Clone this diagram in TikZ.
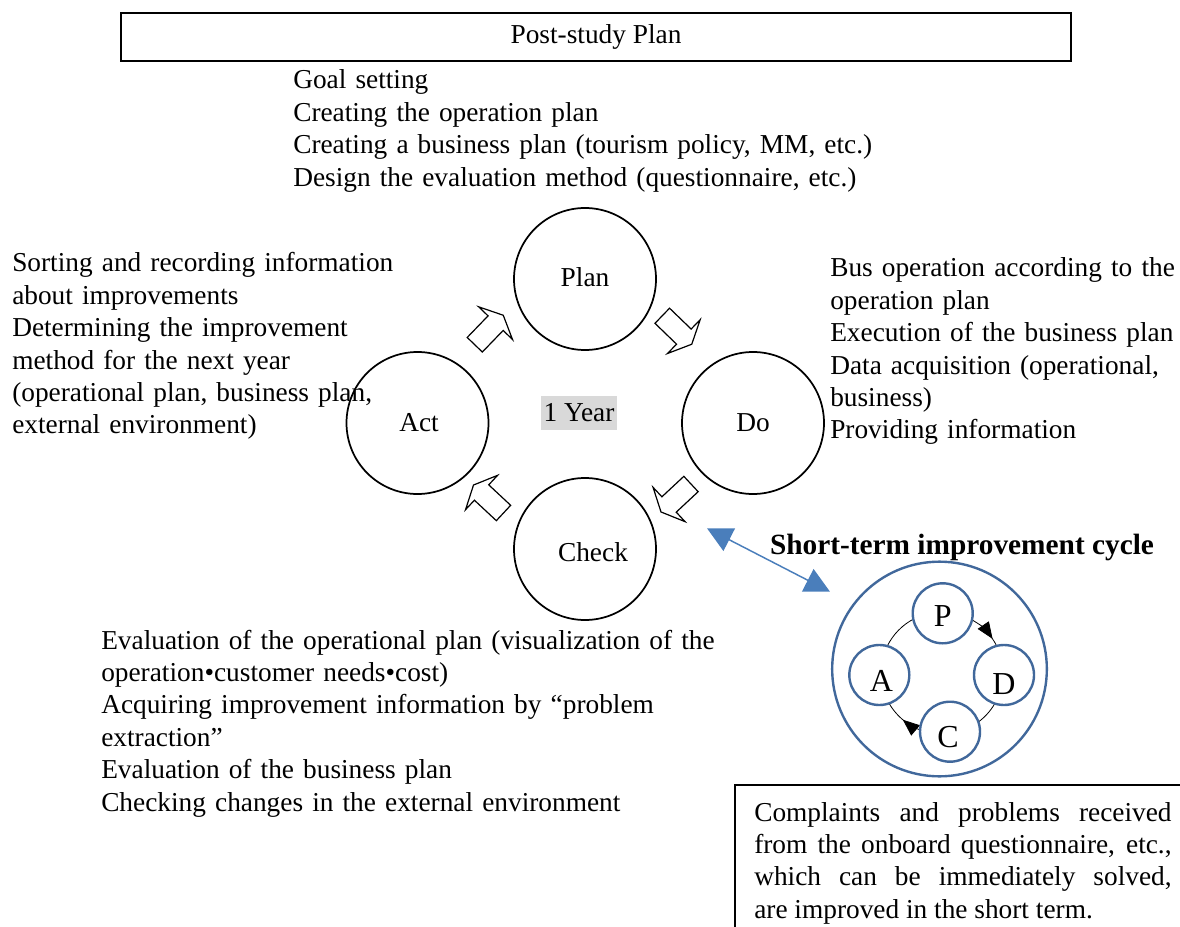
\documentclass[tikz,border=0pt]{standalone}
\usepackage{fontspec}
\setmainfont{Liberation Serif}
\usetikzlibrary{arrows.meta,calc}
\definecolor{cycleblue}{HTML}{41689B}
\definecolor{linkblue}{HTML}{4A7EBB}
\definecolor{yearbg}{HTML}{D9D9D9}

\begin{document}
\begin{tikzpicture}[x=0.75pt,y=0.75pt,
  body/.style={font=\fontsize{20.5}{24.3}\selectfont, inner sep=0pt},
  listtext/.style={body, anchor=base west, align=left},
  phase/.style={circle, draw, line width=1.3pt, minimum size=106.5pt, inner sep=0pt},
  bigring/.style={circle, draw=cycleblue, line width=1.8pt, minimum size=161pt, inner sep=0pt},
  minicycle/.style={circle, draw=cycleblue, line width=1.8pt, fill=white, minimum size=45pt, inner sep=0pt},
  minilabel/.style={font=\fontsize{24}{26}\selectfont, inner sep=0pt},
  ringarc/.style={line width=0.6pt},
  ringtip/.style={-{Triangle[length=12.5pt,width=10pt]}},
  blockarrow/.pic={
    \draw[line width=0.9pt, fill=white, line join=miter]
      (-20.5,-10.5) -- (9.5,-10.5) -- (9.5,-23.5) -- (20.5,0)
      -- (9.5,23.5) -- (9.5,10.5) -- (-20.5,10.5) -- cycle;
  }
]
\useasboundingbox (0,0) rectangle (1180,926);
\clip (0,0) rectangle (1180,926);

% heading
\node[draw, line width=1pt, minimum width=712.5pt, minimum height=36pt, body]
  (title) at (596,889) {Post-study Plan};

% PDCA phases
\node[phase] (plan)  at (585,647)   {};
\node[phase] (act)   at (417.5,503) {};
\node[phase] (do)    at (753,503)   {};
\node[phase] (check) at (585,377)   {};
\node[body] (planlabel)  at (585,649)   {Plan};
\node[body] (actlabel)   at (419,503)   {Act};
\node[body] (dolabel)    at (753,503)   {Do};
\node[body] (checklabel) at (593,374)   {Check};
\node[body, fill=yearbg, inner xsep=2pt, minimum height=25.5pt] (year) at (579,513) {1 Year};

% hollow arrows between the phases
\pic[rotate=46]  at (489,596) {blockarrow};
\pic[rotate=-44] at (677,596) {blockarrow};
\pic[rotate=223] at (676,428) {blockarrow};
\pic[rotate=137] at (488.5,427) {blockarrow};

% phase descriptions
\node[listtext, text width=480pt] (plantext) at (293,837)
  {Goal setting\\
   Creating the operation plan\\
   Creating a business plan (tourism policy, MM, etc.)\\
   Design the evaluation method (questionnaire, etc.)};

\node[listtext, text width=300pt] (acttext) at (12,654)
  {Sorting and recording information\\
   about improvements\\
   Determining the improvement\\
   method for the next year\\
   (operational plan, business plan,\\
   external environment)};

\node[listtext, text width=270pt] (dotext) at (830,649)
  {Bus operation according to the\\
   operation plan\\
   Execution of the business plan\\
   Data acquisition (operational,\\
   business)\\
   Providing information};

\node[listtext, text width=480pt] (checktext) at (101,277)
  {Evaluation of the operational plan (visualization of the\\
   operation•customer needs•cost)\\
   Acquiring improvement information by “problem\\
   extraction”\\
   Evaluation of the business plan\\
   Checking changes in the external environment};

% short-term cycle
\node[font=\bfseries\fontsize{22}{24}\selectfont, inner sep=0pt] (stitle) at (962,379)
  {Short-term improvement cycle};
\node[bigring] (ring) at (939.5,257) {};
\coordinate (hub) at (942,253);
\draw[ringarc, ringtip] ($(hub)+(62:61)$) arc[start angle=62, end angle=34, radius=61];
\draw[ringarc] ($(hub)+(36:61)$) arc[start angle=36, end angle=26, radius=61];
\draw[ringarc] ($(hub)+(-30:61)$) arc[start angle=-30, end angle=-54, radius=61];
\draw[ringarc, ringtip] ($(hub)+(-110:61)$) arc[start angle=-110, end angle=-130, radius=61];
\draw[ringarc] ($(hub)+(-128:61)$) arc[start angle=-128, end angle=-151, radius=61];
\draw[ringarc] ($(hub)+(154:61)$) arc[start angle=154, end angle=117, radius=61];
\node[minicycle] (mp) at (942.7,312.7) {};
\node[minicycle] (md) at (1004,251) {};
\node[minicycle] (mc) at (950,194.3) {};
\node[minicycle] (ma) at (879.3,251) {};
\node[minilabel] (lp) at ($(mp)+(0,-3)$) {P};
\node[minilabel] (ld) at ($(md)+(0,-9)$) {D};
\node[minilabel] (lc) at ($(mc)+(-2,-5)$) {C};
\node[minilabel] (la) at ($(ma)+(2,-6)$) {A};

% link between the yearly cycle and the short-term cycle
\coordinate (linkA) at (707,397.7);
\coordinate (linkB) at (830,334.3);
\draw[linkblue, line width=1.1pt,
  {Triangle[length=18.75pt,width=18.75pt]}-{Triangle[length=18.75pt,width=18.75pt]}]
  (linkA) -- (linkB);

% note box
\draw[line width=1pt] (1200,141) -- (735,141) -- (735,-20);
\node[body, anchor=base west, text width=313pt, align=justify] (note) at (754,105)
  {Complaints and problems received\linebreak
   from the onboard questionnaire, etc.,\linebreak
   which can be immediately solved,\linebreak
   are improved in the short term.};
\end{tikzpicture}
\end{document}
